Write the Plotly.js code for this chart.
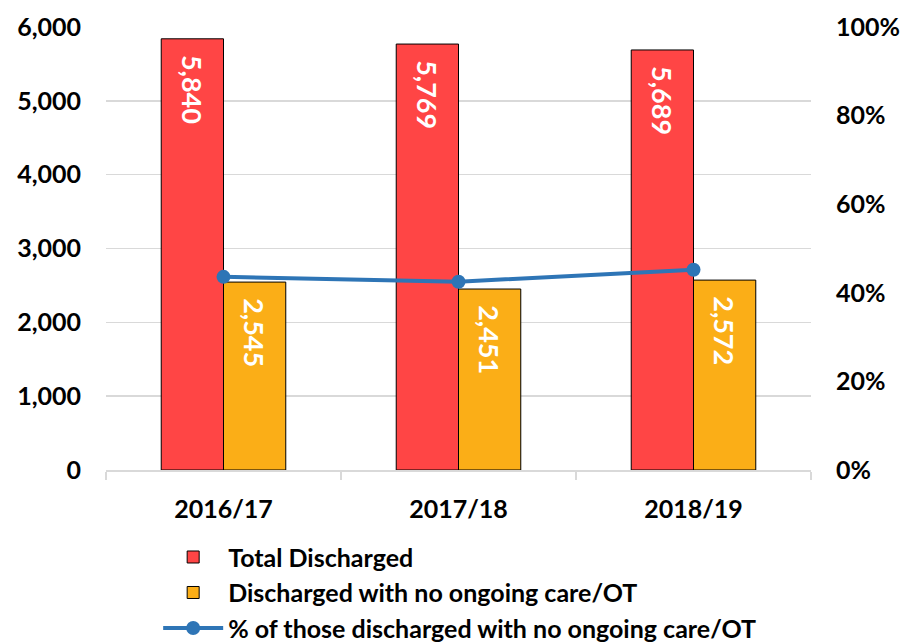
<!DOCTYPE html>
<html><head><meta charset="utf-8">
<script src="https://cdn.plot.ly/plotly-3.0.1.min.js"></script>
<style>html,body{margin:0;padding:0;background:#fff}#chart{width:907px;height:644px}</style>
</head><body><div id="chart"></div>
<script>
const categories = ["2016/17", "2017/18", "2018/19"];
const totalDischarged = [5840, 5769, 5689];
const noOngoingCare = [2545, 2451, 2572];
const pctNoOngoing = [43.6, 42.5, 45.2];
const leftTicks = [0, 1000, 2000, 3000, 4000, 5000, 6000];
const rightTicks = [0, 20, 40, 60, 80, 100];

const font = "Lato, 'Open Sans', sans-serif";
const fmt = v => v.toLocaleString("en-US");
const lbl = v => "<b>\u00A0\u00A0" + fmt(v) + "</b>";

const traces = [
  {type:"bar", name:"<b>Total Discharged</b>", x:categories, y:totalDischarged,
   marker:{color:"#FF4545", line:{color:"#000", width:1}},
   text:totalDischarged.map(lbl), textposition:"inside", insidetextanchor:"end",
   textangle:90, textfont:{color:"#fff", size:27, family:font}, hoverinfo:"none"},
  {type:"bar", name:"<b>Discharged with no ongoing care/OT</b>", x:categories, y:noOngoingCare,
   marker:{color:"#FBAE17", line:{color:"#000", width:1}},
   text:noOngoingCare.map(lbl), textposition:"inside", insidetextanchor:"end",
   textangle:90, textfont:{color:"#fff", size:27, family:font}, hoverinfo:"none"},
  {type:"scatter", mode:"lines+markers", name:"<b>% of those discharged with no ongoing care/OT</b>",
   x:categories, y:pctNoOngoing, yaxis:"y2",
   line:{color:"#2E75B6", width:4}, marker:{color:"#2E75B6", size:14}}
];

const layout = {
  width:907, height:644,
  margin:{l:106, r:96, t:27, b:174, autoexpand:false},
  paper_bgcolor:"#fff", plot_bgcolor:"#fff",
  font:{family:font, color:"#000"},
  barmode:"group", bargap:0.47, bargroupgap:0,
  showlegend:true,
  legend:{orientation:"v", x:0.074, xanchor:"left", y:-0.145, yanchor:"top",
          font:{size:25, family:font, color:"#000"}, tracegroupgap:0, itemwidth:60,
          traceorder:"normal"},
  xaxis:{type:"category", showline:true, linecolor:"#D9D9D9", linewidth:1.5,
         ticks:"outside", tickson:"boundaries", ticklen:8, tickcolor:"#D9D9D9", tickwidth:1.5,
         tickfont:{size:25, family:font}, ticklabelstandoff:16,
         showgrid:false},
  yaxis:{range:[0,6000], tickvals:leftTicks, ticktext:leftTicks.map(v=>"<b>"+fmt(v)+"</b>"),
         showgrid:true, gridcolor:"#D9D9D9", gridwidth:1.5, zeroline:false,
         tickfont:{size:25, family:font}, ticks:"", ticklabelstandoff:24},
  yaxis2:{range:[0,100], overlaying:"y", side:"right", tickvals:rightTicks,
          ticktext:rightTicks.map(v=>"<b>"+v+"%</b>"), showgrid:false, zeroline:false,
          tickfont:{size:25, family:font}, ticks:"", ticklabelstandoff:24}
};
layout.xaxis.tickvals = categories;
layout.xaxis.ticktext = categories.map(c=>"<b>"+c+"</b>");

Plotly.newPlot("chart", traces, layout, {displayModeBar:false, staticPlot:true});
</script></body></html>
